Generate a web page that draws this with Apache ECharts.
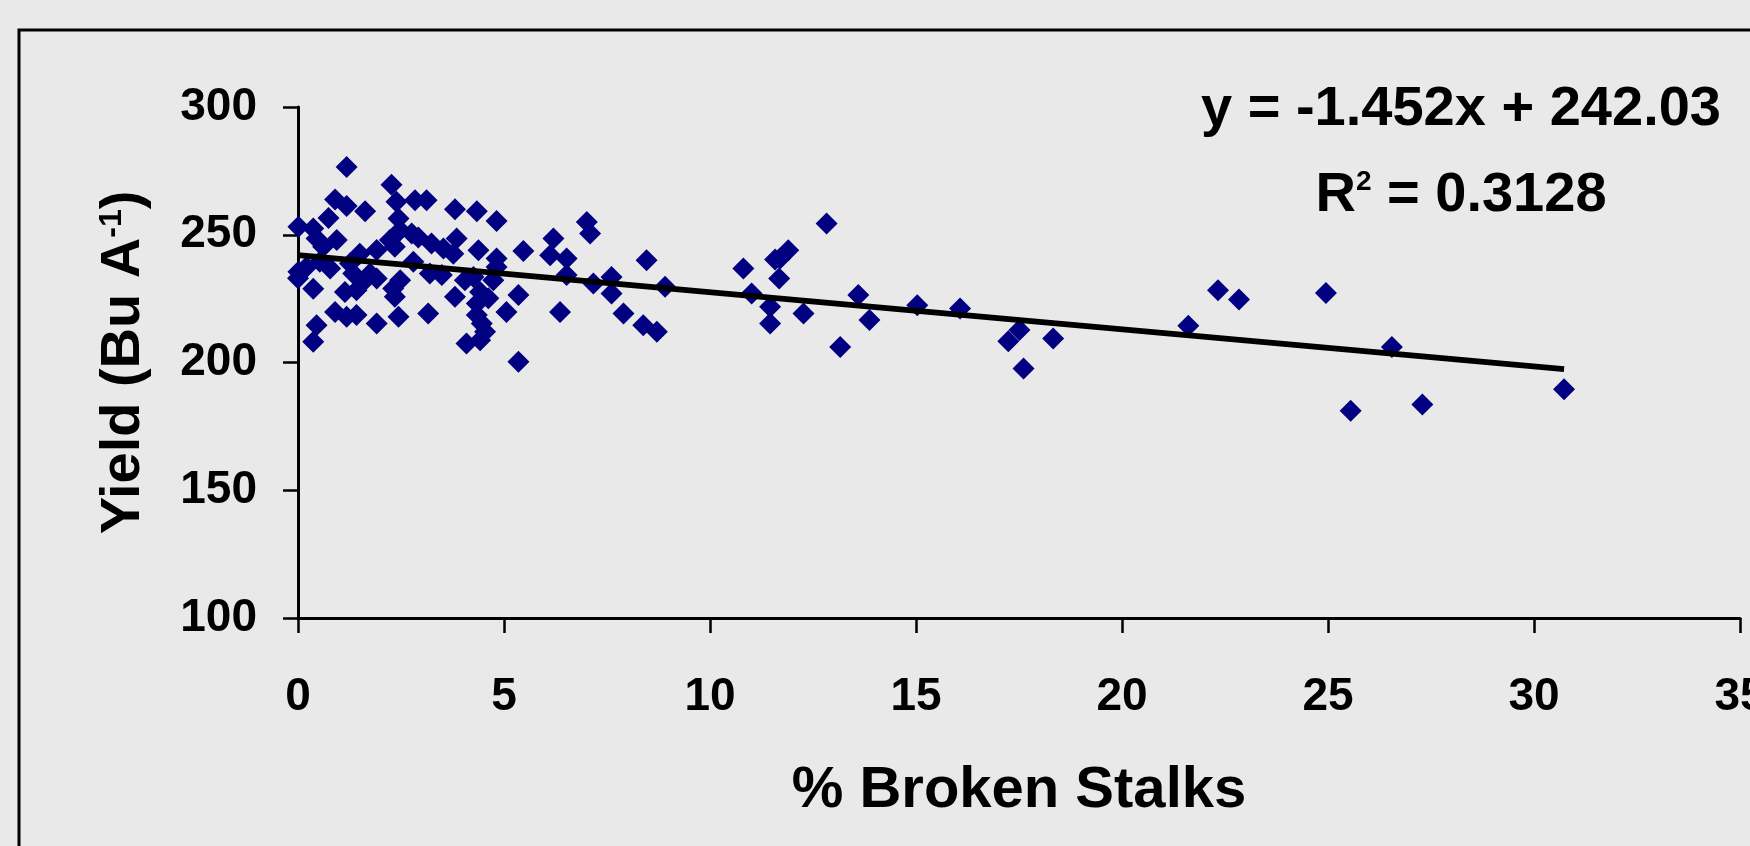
<!DOCTYPE html>
<html>
<head>
<meta charset="utf-8">
<title>Yield vs % Broken Stalks</title>
<script src="https://cdn.jsdelivr.net/npm/echarts@6/dist/echarts.min.js"></script>
<style>
  html, body { margin: 0; padding: 0; background: #e9e9e9; }
  #chart { width: 1750px; height: 846px; }
</style>
</head>
<body>
<div id="chart"></div>
<script>
  // % broken stalks (x) and yield in Bu/A (y)
  var brokenPct = [
    1.18, 2.27, 0.90, 1.18, 1.63, 2.39, 2.84, 3.12, 0.74, 2.44,
    3.81, 4.34, 4.82, 7.01, 7.09, 0.01, 0.37, 0.45, 0.94, 0.61,
    2.48, 2.76, 2.92, 2.23, 2.35, 3.24, 3.53, 3.85, 3.77, 4.38,
    4.82, 5.47, 6.20, 6.12, 6.52, 8.46, 1.91, 1.50, 0.01, 0.21,
    0.53, 0.78, 0.37, 1.26, 1.34, 1.75, 1.91, 1.59, 2.80, 2.48,
    2.31, 3.20, 3.49, 4.05, 4.26, 4.74, 4.82, 6.52, 7.17, 7.61,
    8.91, 1.14, 1.42, 2.35, 3.81, 4.42, 4.62, 4.34, 5.35, 7.61,
    0.90, 1.18, 1.42, 1.91, 2.44, 3.16, 4.34, 4.46, 5.06, 6.36,
    7.90, 8.38, 8.71, 0.45, 0.37, 4.09, 4.42, 4.54, 5.35, 0.00,
    12.83, 11.90, 11.70, 11.58, 10.81, 11.68, 11.01, 11.46, 11.46, 12.27,
    13.16, 13.60, 13.87, 15.03, 16.07, 17.51, 17.24, 17.61, 18.33, 21.61,
    22.33, 22.84, 24.95, 26.55, 25.55, 27.29, 30.73
  ];
  var yieldBu = [
    276.5, 269.6, 263.8, 261.3, 259.2, 262.9, 263.5, 263.5, 256.6, 256.4,
    260.0, 259.2, 255.4, 255.0, 250.5, 253.1, 252.4, 248.5, 247.9, 245.3,
    251.8, 250.5, 248.9, 247.9, 245.3, 246.6, 244.6, 248.5, 242.6, 243.9,
    240.7, 243.6, 248.5, 242.0, 240.7, 240.0, 244.0, 242.6, 235.5, 237.4,
    239.4, 236.8, 228.9, 238.7, 234.8, 234.8, 232.9, 231.6, 239.4, 232.2,
    229.0, 234.8, 234.2, 232.2, 233.5, 232.2, 237.4, 234.2, 230.9, 233.5,
    229.6, 227.6, 228.3, 225.7, 225.7, 227.6, 225.1, 223.1, 226.4, 227.0,
    219.8, 217.9, 218.6, 215.3, 217.9, 219.2, 218.6, 215.3, 219.8, 219.8,
    219.2, 214.6, 212.0, 214.6, 208.1, 207.4, 208.7, 212.0, 200.3, 233.0,
    254.4, 243.9, 240.7, 240.3, 236.8, 232.9, 227.0, 221.8, 215.3, 219.2,
    206.1, 226.4, 216.6, 222.4, 221.1, 212.7, 208.3, 197.7, 209.4, 214.4,
    228.3, 224.7, 227.2, 206.1, 181.1, 183.6, 189.5
  ];

  // linear trend printed on the chart
  var slope = -1.452
  var intercept = 242.03
  var rSquared = 0.3128

  var xTicks = { min: 0, max: 35, step: 5 }
  var yTicks = { min: 100, max: 300, step: 50 }

  var fontFamily = '"Liberation Sans", Arial, Helvetica, sans-serif'

  var points = []
  for (var i = 0; i < brokenPct.length; i++) {
    points.push([brokenPct[i], yieldBu[i]])
  }
  var xMax = Math.max.apply(null, brokenPct)
  var trend = [[0, intercept], [xMax, slope * xMax + intercept]]

  var chart = echarts.init(document.getElementById('chart'))
  chart.setOption({
    backgroundColor: '#e9e9e9',
    animation: false,
    grid: {
      left: 298,
      right: 10,
      top: 107,
      bottom: 228,
      containLabel: false,
      outerBoundsMode: 'none'
    },
    xAxis: {
      type: 'value',
      min: xTicks.min,
      max: xTicks.max,
      interval: xTicks.step,
      splitLine: { show: false },
      axisLine: { show: true, onZero: false, lineStyle: { color: '#000', width: 3 } },
      axisTick: { show: true, inside: false, length: 15, lineStyle: { color: '#000', width: 2.5 } },
      axisLabel: {
        margin: 56,
        color: '#000',
        fontSize: 46,
        fontWeight: 'bold',
        fontFamily: fontFamily
      },
      name: '% Broken Stalks',
      nameLocation: 'middle',
      nameGap: 144,
      nameTextStyle: {
        color: '#000',
        fontSize: 58,
        fontWeight: 'bold',
        fontFamily: fontFamily
      }
    },
    yAxis: {
      type: 'value',
      min: yTicks.min,
      max: yTicks.max,
      interval: yTicks.step,
      splitLine: { show: false },
      axisLine: { show: true, onZero: false, lineStyle: { color: '#000', width: 3 } },
      axisTick: { show: true, inside: false, length: 15, lineStyle: { color: '#000', width: 2.5 } },
      axisLabel: {
        margin: 41,
        color: '#000',
        fontSize: 46,
        fontWeight: 'bold',
        fontFamily: fontFamily
      },
      name: '{a|Yield (Bu A}{s|-1}{a|)}',
      nameLocation: 'middle',
      nameGap: 146,
      nameTextStyle: {
        color: '#000',
        fontSize: 56,
        fontWeight: 'bold',
        fontFamily: fontFamily,
        rich: {
          a: { color: '#000', fontSize: 56, fontWeight: 'bold', fontFamily: fontFamily, lineHeight: 56 },
          s: { color: '#000', fontSize: 32, fontWeight: 'bold', fontFamily: fontFamily, lineHeight: 2, verticalAlign: 'top' }
        }
      }
    },
    graphic: [
      {
        type: 'rect',
        silent: true,
        shape: { x: 19, y: 30, width: 1800, height: 900 },
        style: { fill: 'none', stroke: '#000', lineWidth: 3 }
      },
      {
        type: 'text',
        silent: true,
        x: 1461,
        y: 110,
        style: {
          text: 'y = ' + slope + 'x + ' + intercept,
          fill: '#000',
          font: 'bold 56px ' + fontFamily,
          align: 'center',
          verticalAlign: 'middle'
        }
      },
      {
        type: 'text',
        silent: true,
        x: 1461,
        y: 196,
        style: {
          text: '{a|R}{s|2}{a| = ' + rSquared + '}',
          fill: '#000',
          font: 'bold 56px ' + fontFamily,
          align: 'center',
          verticalAlign: 'middle',
          rich: {
            a: { fill: '#000', fontSize: 56, fontWeight: 'bold', fontFamily: fontFamily, lineHeight: 56 },
            s: { fill: '#000', fontSize: 28, fontWeight: 'bold', fontFamily: fontFamily, lineHeight: 0, verticalAlign: 'top' }
          }
        }
      }
    ],
    series: [
      {
        name: 'Yield',
        type: 'scatter',
        data: points,
        symbol: 'diamond',
        symbolSize: 22,
        itemStyle: { color: '#000080', opacity: 1 }
      },
      {
        name: 'Linear (Yield)',
        type: 'line',
        data: trend,
        symbol: 'none',
        silent: true,
        lineStyle: { color: '#000', width: 6 }
      }
    ]
  })
</script>
</body>
</html>
